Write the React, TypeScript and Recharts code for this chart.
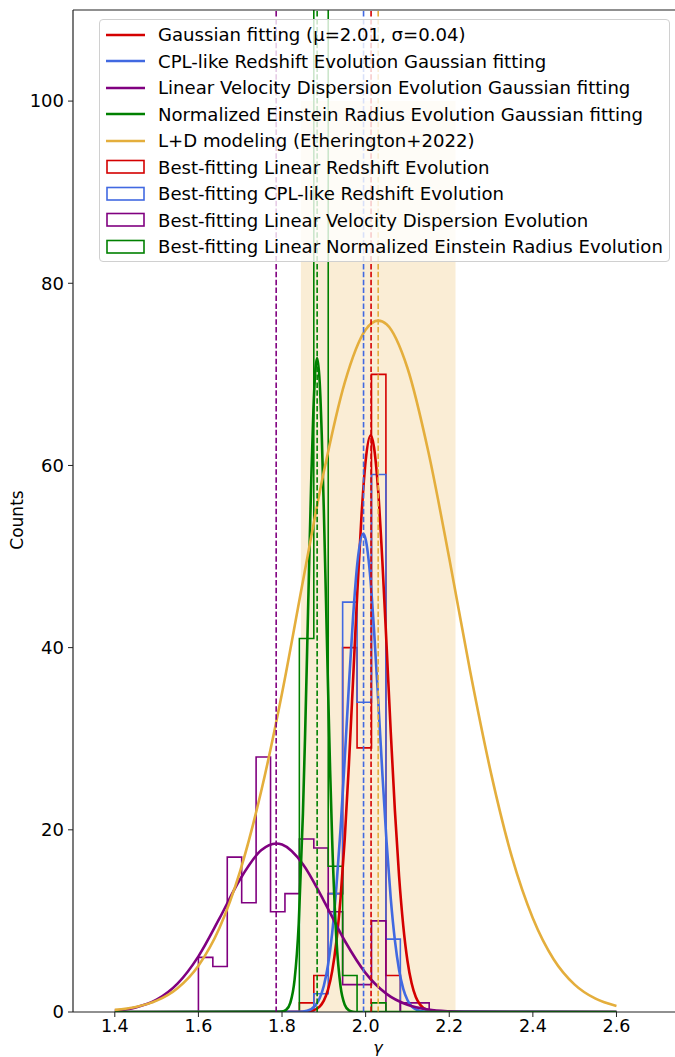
import React from "react";
import {
  ComposedChart,
  Line,
  XAxis,
  YAxis,
  ReferenceLine,
  ReferenceArea,
  Label,
} from "recharts";

// histogram bin edges (shared by all four runs)
const BIN_EDGES = [
  1.6, 1.6345, 1.669, 1.7035, 1.738, 1.7725, 1.807, 1.8415, 1.876, 1.9105, 1.945, 1.9795, 2.014,
  2.0485, 2.083, 2.1175, 2.152,
];
const RED_COUNTS = [0, 0, 0, 0, 0, 0, 0, 1, 4, 13, 40, 29, 70, 4, 0, 0];
const BLUE_COUNTS = [0, 0, 0, 0, 0, 0, 0, 0, 2, 13, 45, 34, 59, 8, 0, 0];
const PURPLE_COUNTS = [6, 5, 17, 12, 28, 11, 13, 19, 18, 11, 3, 3, 10, 0, 1, 1];
const GREEN_COUNTS = [0, 0, 0, 0, 0, 0, 0, 41, 130, 16, 4, 0, 1, 0, 0, 0];

// fitted curves
const RED_FIT_X = [
  1.4, 1.85, 1.87, 1.89, 1.9, 1.91, 1.92, 1.93, 1.94, 1.95, 1.96, 1.97, 1.98, 1.99, 2.0, 2.012, 2.02,
  2.03, 2.04, 2.05, 2.06, 2.07, 2.08, 2.09, 2.1, 2.11, 2.12, 2.13, 2.15, 2.17, 2.6,
];
const RED_FIT_Y = [
  0, 0.02, 0.12, 0.6, 1.25, 2.45, 4.49, 7.74, 12.5, 19.0, 27.2, 36.5, 46.0, 54.4, 60.5, 63.3, 62.0,
  57.2, 49.5, 40.3, 30.8, 22.1, 14.9, 9.46, 5.63, 3.15, 1.65, 0.82, 0.16, 0.03, 0,
];
const BLUE_FIT_X = [
  1.4, 1.84, 1.86, 1.88, 1.89, 1.9, 1.91, 1.92, 1.93, 1.94, 1.95, 1.96, 1.97, 1.98, 1.994, 2.0, 2.01,
  2.02, 2.03, 2.04, 2.05, 2.06, 2.07, 2.08, 2.09, 2.1, 2.12, 2.14, 2.6,
];
const BLUE_FIT_Y = [
  0, 0.02, 0.14, 0.73, 1.5, 2.88, 5.16, 8.68, 13.7, 20.1, 27.8, 35.9, 43.4, 49.2, 52.5, 51.9, 48.3,
  42.0, 34.3, 26.2, 18.7, 12.5, 7.86, 4.61, 2.54, 1.31, 0.28, 0.05, 0,
];
const GREEN_FIT_X = [
  1.4, 1.79, 1.8, 1.81, 1.82, 1.83, 1.84, 1.85, 1.855, 1.86, 1.865, 1.87, 1.875, 1.88, 1.884, 1.89,
  1.895, 1.9, 1.905, 1.91, 1.915, 1.92, 1.93, 1.94, 1.95, 1.96, 1.97, 1.98, 2.6,
];
const GREEN_FIT_Y = [
  0, 0.01, 0.05, 0.25, 1.04, 3.53, 9.72, 21.8, 30.1, 39.6, 49.4, 58.6, 66.0, 70.6, 71.8, 69.2, 63.4,
  55.1, 45.5, 35.7, 26.6, 18.8, 8.07, 2.81, 0.8, 0.18, 0.03, 0, 0,
];
const PURPLE_FIT_X = [
  1.4, 1.45, 1.5, 1.55, 1.6, 1.65, 1.7, 1.75, 1.786, 1.8, 1.85, 1.9, 1.95, 2.0, 2.05, 2.1, 2.15, 2.2,
  2.25, 2.35, 2.6,
];
const PURPLE_FIT_Y = [
  0.16, 0.5, 1.35, 3.11, 6.11, 10.24, 14.6, 17.75, 18.5, 18.38, 16.23, 12.21, 7.82, 4.27, 1.99, 0.79,
  0.27, 0.08, 0.02, 0, 0,
];
const LD_X = [
  1.4, 1.45, 1.5, 1.55, 1.6, 1.65, 1.7, 1.75, 1.8, 1.85, 1.9, 1.95, 2.0, 2.03, 2.05, 2.1, 2.15, 2.2,
  2.25, 2.3, 2.35, 2.4, 2.45, 2.5, 2.55, 2.6,
];
const LD_Y = [
  0.23, 0.56, 1.25, 2.62, 5.09, 9.2, 15.5, 24.2, 35.0, 47.3, 59.3, 69.1, 74.9, 75.9, 75.5, 70.7, 61.5,
  49.8, 37.4, 26.2, 17.0, 10.3, 5.77, 3.01, 1.46, 0.66,
];

// means (dashed lines) and the shaded L+D range
const MEANS = { purple: 1.786, green: 1.884, blue: 1.995, red: 2.013, ld: 2.03 };
const LD_RANGE = [1.845, 2.215];
const LD_RANGE_TOP = 100;

const X_TICKS = [1.4, 1.6, 1.8, 2.0, 2.2, 2.4, 2.6];
const Y_TICKS = [0, 20, 40, 60, 80, 100];

const RED = "#d40000";
const BLUE = "#4169e1";
const PURPLE = "#800080";
const GREEN = "#008000";
const GOLD = "#e4ae3c";

const LEGEND_ITEMS = [
  { label: "Gaussian fitting (μ=2.01, σ=0.04)", color: RED, kind: "line" },
  { label: "CPL-like Redshift Evolution Gaussian fitting", color: BLUE, kind: "line" },
  { label: "Linear Velocity Dispersion Evolution Gaussian fitting", color: PURPLE, kind: "line" },
  { label: "Normalized Einstein Radius Evolution Gaussian fitting", color: GREEN, kind: "line" },
  { label: "L+D modeling (Etherington+2022)", color: GOLD, kind: "line" },
  { label: "Best-fitting Linear Redshift Evolution", color: RED, kind: "box" },
  { label: "Best-fitting CPL-like Redshift Evolution", color: BLUE, kind: "box" },
  { label: "Best-fitting Linear Velocity Dispersion Evolution", color: PURPLE, kind: "box" },
  { label: "Best-fitting Linear Normalized Einstein Radius Evolution", color: GREEN, kind: "box" },
];

const toPoints = (xs: number[], ys: number[]) => xs.map((x, i) => ({ x, y: ys[i] }));

function stepPoints(counts: number[]) {
  const first = counts.findIndex((c) => c > 0);
  const last = counts.length - 1 - [...counts].reverse().findIndex((c) => c > 0);
  const pts = [{ x: BIN_EDGES[first], y: 0 }];
  for (let k = first; k <= last; k++) pts.push({ x: BIN_EDGES[k], y: counts[k] });
  pts.push({ x: BIN_EDGES[last + 1], y: counts[last] });
  pts.push({ x: BIN_EDGES[last + 1], y: 0 });
  return pts;
}

const FONT = "'DejaVu Sans', sans-serif";

function LegendBox() {
  return (
    <div
      style={{
        position: "absolute",
        left: 99,
        top: 19,
        width: 571,
        height: 243,
        boxSizing: "border-box",
        border: "1px solid #d0d0d0",
        borderRadius: 4,
        background: "rgba(255,255,255,0.8)",
        paddingTop: 1.5,
        fontFamily: FONT,
        fontSize: 18.1,
        color: "#000",
      }}
    >
      {LEGEND_ITEMS.map((it) => (
        <div key={it.label} style={{ height: 26.5, display: "flex", alignItems: "center" }}>
          <svg width={40} height={16} style={{ marginLeft: 6, marginRight: 12, flexShrink: 0 }}>
            {it.kind === "line" ? (
              <line x1={0} x2={39} y1={8} y2={8} stroke={it.color} strokeWidth={2.6} />
            ) : (
              <rect x={1} y={1.5} width={37} height={12.5} fill="none" stroke={it.color} strokeWidth={1.6} />
            )}
          </svg>
          <span style={{ whiteSpace: "nowrap" }}>{it.label}</span>
        </div>
      ))}
    </div>
  );
}

export default function App() {
  const fits = [
    { key: "red-fit", pts: toPoints(RED_FIT_X, RED_FIT_Y), color: RED },
    { key: "blue-fit", pts: toPoints(BLUE_FIT_X, BLUE_FIT_Y), color: BLUE },
    { key: "purple-fit", pts: toPoints(PURPLE_FIT_X, PURPLE_FIT_Y), color: PURPLE },
    { key: "green-fit", pts: toPoints(GREEN_FIT_X, GREEN_FIT_Y), color: GREEN },
    { key: "ld-fit", pts: toPoints(LD_X, LD_Y), color: GOLD },
  ];
  const hists = [
    { key: "red-hist", pts: stepPoints(RED_COUNTS), color: RED },
    { key: "blue-hist", pts: stepPoints(BLUE_COUNTS), color: BLUE },
    { key: "purple-hist", pts: stepPoints(PURPLE_COUNTS), color: PURPLE },
    { key: "green-hist", pts: stepPoints(GREEN_COUNTS), color: GREEN },
  ];
  const means = [
    { x: MEANS.purple, color: PURPLE },
    { x: MEANS.green, color: GREEN },
    { x: MEANS.blue, color: BLUE },
    { x: MEANS.red, color: RED },
    { x: MEANS.ld, color: GOLD },
  ];

  return (
    <div
      style={{
        position: "fixed",
        left: 0,
        top: 0,
        width: 675,
        height: 1057,
        overflow: "hidden",
        background: "#fff",
        fontFamily: FONT,
      }}
    >
      <ComposedChart width={675} height={1057} margin={{ top: 10, right: 0, bottom: 0, left: 0 }}>
        <XAxis
          type="number"
          dataKey="x"
          domain={[1.3, 2.74]}
          allowDataOverflow
          ticks={X_TICKS}
          tickFormatter={(v) => v.toFixed(1)}
          height={45}
          tickSize={5}
          tickMargin={3}
          tick={{ fontSize: 17.5, fill: "#000" }}
          axisLine={{ stroke: "#222", strokeWidth: 1.2 }}
          tickLine={{ stroke: "#222" }}
        >
          <Label value="γ" position="insideBottom" offset={4} style={{ fontSize: 16, fontStyle: "italic", fill: "#000" }} dx={4} />
        </XAxis>
        <YAxis
          type="number"
          domain={[0, 110]}
          allowDataOverflow
          ticks={Y_TICKS}
          width={73}
          tickSize={5}
          tickMargin={4}
          tick={{ fontSize: 18, fill: "#000" }}
          axisLine={{ stroke: "#222", strokeWidth: 1.2 }}
          tickLine={{ stroke: "#222" }}
        >
          <Label value="Counts" angle={-90} position="insideLeft" offset={17} dy={9} style={{ fontSize: 17, fill: "#000", textAnchor: "middle" }} />
        </YAxis>

        <ReferenceArea
          x1={LD_RANGE[0]}
          x2={LD_RANGE[1]}
          y1={0}
          y2={LD_RANGE_TOP}
          fill="#f5deb3"
          fillOpacity={0.55}
          stroke="none"
        />

        {hists.map((h) => (
          <Line
            key={h.key}
            data={h.pts}
            dataKey="y"
            type="stepAfter"
            stroke={h.color}
            strokeWidth={1.6}
            dot={false}
            activeDot={false}
            isAnimationActive={false}
          />
        ))}
        {fits.map((f) => (
          <Line
            key={f.key}
            data={f.pts}
            dataKey="y"
            type="monotone"
            stroke={f.color}
            strokeWidth={2.6}
            dot={false}
            activeDot={false}
            isAnimationActive={false}
          />
        ))}
        {means.map((m) => (
          <ReferenceLine key={m.x} x={m.x} stroke={m.color} strokeWidth={1.6} strokeDasharray="5.5 2.4" />
        ))}
        <ReferenceLine y={110} stroke="#222" strokeWidth={1.2} />
      </ComposedChart>
      <LegendBox />
    </div>
  );
}
